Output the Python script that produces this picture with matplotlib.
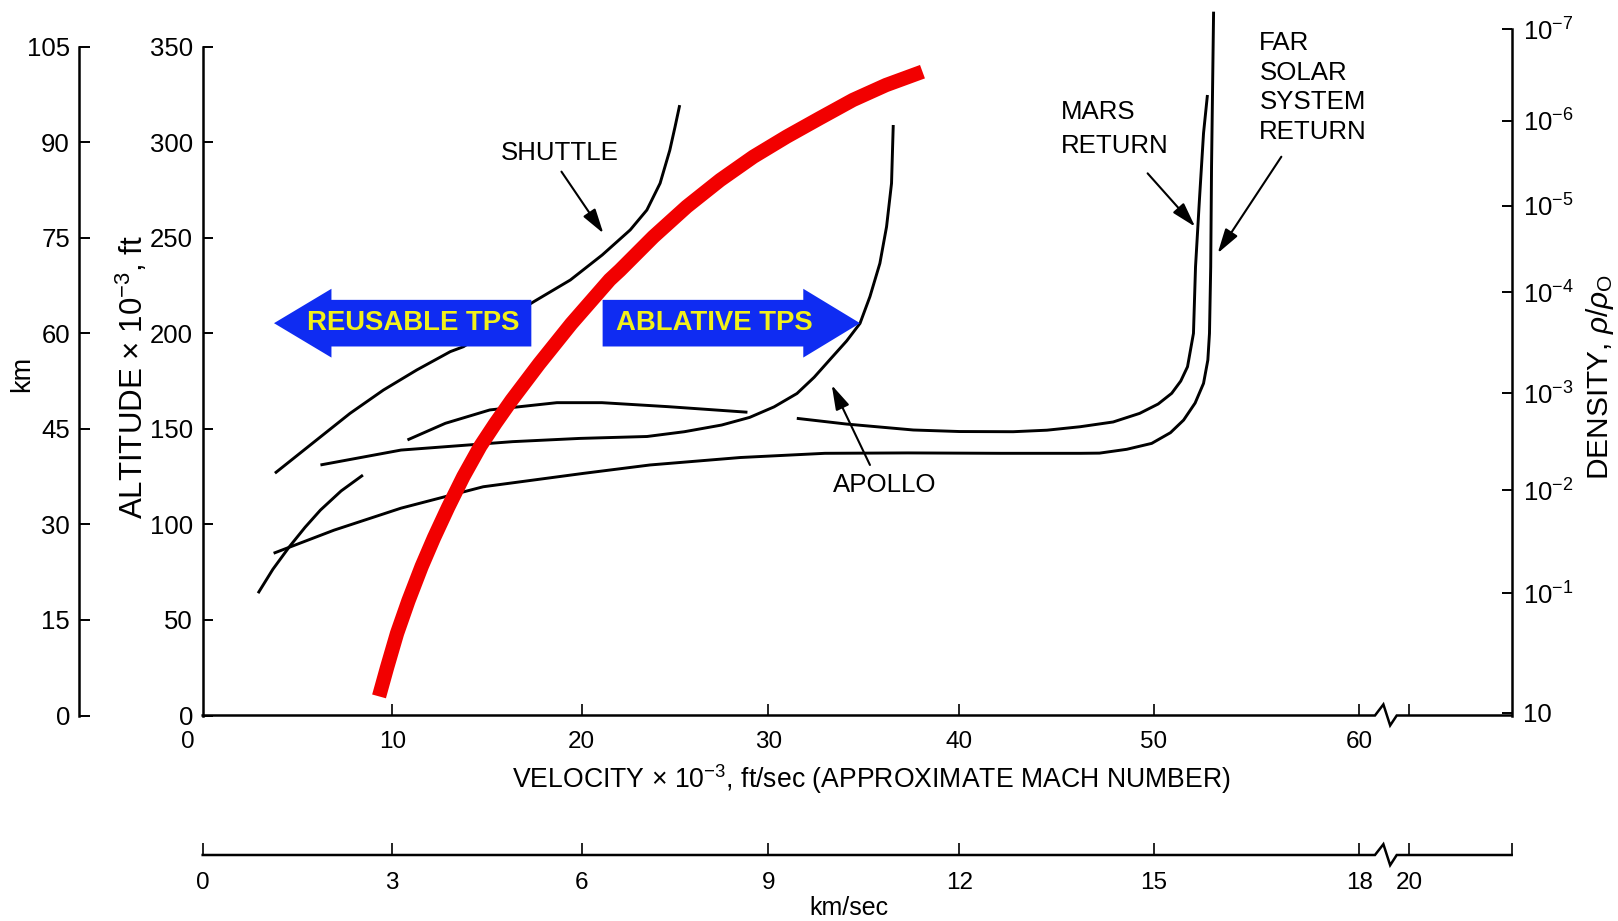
#!/usr/bin/env python3
"""========================================================================
Purpose:
    Entry trajectories (Shuttle, Apollo, Mars return, far solar system
    return) in the altitude / velocity plane, with the boundary between
    reusable and ablative thermal protection systems.
========================================================================"""
#=========================================================================#
# Preamble                                                                #
#=========================================================================#
import numpy as np
import matplotlib
matplotlib.use('Agg')
import matplotlib.pyplot as plt
from matplotlib.patches import Polygon
#=========================================================================#
# Data (velocity x 10^-3 ft/sec, altitude x 10^-3 ft)                     #
#=========================================================================#
tps_v       = [9.3, 9.72, 10.25, 10.85, 11.55, 12.2, 12.95, 13.75, 14.65,
               15.45, 16.3, 17.75, 19.45, 21.5, 22.05, 23.84, 25.63, 27.42,
               29.2, 30.96, 32.68, 34.43, 36.16, 38.07]
tps_alt     = [10, 25, 43, 60, 78, 93, 109, 125, 141, 153, 165, 184, 205,
               228, 233, 250.5, 266.3, 280.2, 292.4, 302.9, 312.5, 322.1,
               329.9, 336.9]

shuttle_v   = [3.81, 6.01, 7.77, 9.53, 11.29, 13.06, 13.76, 15.6, 17.46,
               19.4, 21.1, 22.6, 23.49, 24.2, 24.72, 25.0, 25.25]
shuttle_alt = [126.8, 144.2, 158.1, 170.3, 180.8, 190.4, 193, 205, 216.5,
               227.9, 241, 254.1, 264.5, 278.5, 295.8, 308, 319.4]

low_v       = [2.92, 3.7, 4.57, 5.4, 6.21, 7.3, 8.45]
low_alt     = [64, 76.5, 88.3, 98.5, 107.5, 117.5, 125.8]

hump_v      = [10.8, 12.8, 15.15, 18.69, 21.08, 24.64, 28.88]
hump_alt    = [144.2, 152.9, 159.9, 163.7, 163.7, 161.6, 158.7]

apollo_v    = [6.21, 10.46, 16.35, 19.9, 23.5, 25.5, 27.5, 29.0, 30.3,
               31.5, 32.4, 33.23, 34.1, 34.8, 35.32, 35.84, 36.19, 36.45,
               36.54]
apollo_alt  = [131.1, 138.9, 143.3, 145, 146, 148.5, 152, 156, 161.5,
               168.5, 177, 186.3, 196, 205.2, 219.2, 236.6, 255.8, 278.5,
               309]

mars_v      = [31.49, 34.1, 37.59, 40.0, 42.76, 44.5, 46.2, 47.9, 49.26,
               50.2, 50.86, 51.3, 51.63, 51.92, 52.02, 52.21, 52.41, 52.6]
mars_alt    = [155.5, 152.5, 149.4, 148.6, 148.5, 149.3, 151.1, 153.6,
               158.1, 163, 168.6, 175, 182.5, 200, 234.8, 269.8, 304.7,
               324.7]

far_v       = [3.74, 6.93, 10.46, 14.8, 20.09, 23.66, 28.5, 32.96, 37.3,
               42.09, 46.23, 47.2, 48.6, 49.88, 50.8, 51.44, 52.0, 52.41,
               52.62, 52.7, 52.76, 52.8, 52.9]
far_alt     = [84.9, 97, 108.5, 119.7, 126.7, 131.1, 135, 137.2, 137.4,
               137.2, 137.2, 137.3, 139.3, 142.4, 148, 154.6, 163.5, 173.8,
               186, 200, 234.8, 287, 368.3]

# axis ticks
alt_ticks   = [0, 50, 100, 150, 200, 250, 300, 350]
km_ticks    = [0, 15, 30, 45, 60, 75, 90, 105]
vel_ticks   = [10, 20, 30, 40, 50, 60]
kms_ticks   = [0, 3, 6, 9, 12, 15, 18]
dens_alt    = [1.5, 63.9, 118.0, 168.6, 221.5, 266.8, 311.3, 359.2]
dens_labels = ['10', r'$10^{-1}$', r'$10^{-2}$', r'$10^{-3}$', r'$10^{-4}$',
               r'$10^{-5}$', r'$10^{-6}$', r'$10^{-7}$']
#=========================================================================#
# Layout (figure pixels)                                                  #
#=========================================================================#
W_PX, H_PX  = 1618, 921
X0_PX       = 202.7                 # velocity origin
X1_PX       = 1511.7                # right axis
Y0_PX       = 715.5                 # altitude 0
PX_PER_KFT  = 1.911
# the printed velocity scale is not uniform: measured tick spacing
CAL_V       = [-20, 0, 10, 20, 30, 40, 50, 60, 90]
CAL_PX      = [-176.5, 202.7, 392.3, 581.7, 768.3, 959.3, 1154.0, 1359.3,
               1975.2]
V_END       = 67.42                 # end of the broken axis
V_POST      = 62.42                 # tick behind the break
BREAK_V     = [60.76, 61.17, 61.5, 61.82]
KMS_20      = 20                    # label behind the break (km/sec)

BLUE        = '#0f2cf2'
YELLOW      = '#f2f01a'
RED         = '#f20000'
#-------------------------------------------------------------------------#
# Helpers                                                                 #
#-------------------------------------------------------------------------#
def box(x0, y0, x1, y1):
    """ figure fraction box from pixel corners (y downwards) """
    return [x0/W_PX, 1.0 - y1/H_PX, (x1 - x0)/W_PX, (y1 - y0)/H_PX]

def fwd(v):
    return np.interp(v, CAL_V, CAL_PX)

def inv(p):
    return np.interp(p, CAL_PX, CAL_V)

def set_vel_scale(ax):
    ax.set_xscale('function', functions=(fwd, inv))
    ax.set_xlim(0, V_END)

def broken_line(ax, peak, trough, lw=1.8):
    """ axis baseline with the zig-zag break """
    xs = [0, BREAK_V[0], BREAK_V[1], BREAK_V[2], BREAK_V[3], V_END]
    ys = [0, 0, peak, trough, 0, 0]
    ax.plot(xs, ys, color='k', lw=lw, clip_on=False, solid_joinstyle='miter')

def tps_arrow(ax, tip, base, end, yc, shaft, head, text, tx):
    pts = [(tip, yc), (base, yc + head), (base, yc + shaft), (end, yc + shaft),
           (end, yc - shaft), (base, yc - shaft), (base, yc - head)]
    ax.add_patch(Polygon(pts, closed=True, facecolor=BLUE, edgecolor='none',
                         zorder=4))
    ax.text(tx, yc, text, color=YELLOW, fontsize=19.8, fontweight='bold',
            ha='center', va='center', zorder=5)

def pointer(ax, start, tip):
    ax.annotate('', xy=tip, xytext=start,
                arrowprops=dict(arrowstyle='-|>,head_length=0.75,head_width=0.22',
                                color='k', lw=1.5, mutation_scale=20,
                                shrinkA=0, shrinkB=0), zorder=6)
#=========================================================================#
# Main                                                                    #
#=========================================================================#
if __name__ == '__main__':
    plt.rcParams['font.family']      = ['Liberation Sans', 'DejaVu Sans']
    plt.rcParams['mathtext.fontset'] = 'custom'
    plt.rcParams['mathtext.rm']      = 'Liberation Sans'
    plt.rcParams['mathtext.it']      = 'Liberation Sans:italic'

    fig = plt.figure(figsize=(W_PX/100, H_PX/100), dpi=100)
    top_px = Y0_PX - 350*PX_PER_KFT
    #---------------------------------------------------------------------#
    # Main axes                                                           #
    #---------------------------------------------------------------------#
    ax = fig.add_axes(box(X0_PX, top_px, X1_PX, Y0_PX))
    ax.patch.set_alpha(0)
    set_vel_scale(ax)
    ax.set_ylim(0, 350)
    for s in ['top', 'right', 'bottom']:
        ax.spines[s].set_visible(False)
    ax.spines['left'].set_linewidth(1.8)
    ax.set_yticks(alt_ticks)
    ax.tick_params(axis='y', direction='in', length=7.2, width=1.4, pad=7,
                   labelsize=18.5)
    ax.set_xticks(vel_ticks + [V_POST])
    ax.set_xticklabels([str(v) for v in vel_ticks] + [''])
    ax.tick_params(axis='x', direction='in', length=8.6, width=1.2, pad=11,
                   labelsize=17.5)
    ax.annotate('0', xy=(-0.78, 0), xycoords=('data', 'axes fraction'),
                xytext=(0, -11), textcoords='offset points', ha='center',
                va='top', fontsize=17.5, annotation_clip=False)
    broken_line(ax, 5.8, -5.2)
    #---------------------------------------------------------------------#
    # Curves                                                              #
    #---------------------------------------------------------------------#
    lw = 2.1
    ax.plot(tps_v, tps_alt, color=RED, lw=10.3, solid_capstyle='butt',
            solid_joinstyle='round', zorder=3)
    for vv, aa in [(shuttle_v, shuttle_alt), (low_v, low_alt),
                   (hump_v, hump_alt), (apollo_v, apollo_alt),
                   (mars_v, mars_alt), (far_v, far_alt)]:
        ax.plot(vv, aa, color='k', lw=lw, clip_on=False, zorder=2,
                solid_capstyle='butt', solid_joinstyle='round')
    #---------------------------------------------------------------------#
    # TPS arrows and labels                                               #
    #---------------------------------------------------------------------#
    tps_arrow(ax, 3.76, 6.79, 17.34, 205.3, 12.2, 18.0, 'REUSABLE TPS', 11.1)
    tps_arrow(ax, 34.8, 31.83, 21.12, 205.3, 12.2, 18.0, 'ABLATIVE TPS', 27.1)

    fs = 18.6
    ax.text(18.84, 294.6, 'SHUTTLE', fontsize=fs, ha='center', va='center')
    pointer(ax, (18.93, 284.6), (21.16, 252.3))
    ax.text(36.1, 120.6, 'APOLLO', fontsize=fs, ha='center', va='center')
    pointer(ax, (35.32, 131.1), (33.32, 172.9))
    ax.text(45.22, 307.0, 'MARS\nRETURN', fontsize=fs, ha='left',
            va='center', linespacing=1.55)
    pointer(ax, (49.67, 283.7), (52.0, 255.8))
    ax.text(55.13, 328.6, 'FAR\nSOLAR\nSYSTEM\nRETURN', fontsize=fs,
            ha='left', va='center', linespacing=1.29, clip_on=False)
    pointer(ax, (56.2, 292.4), (53.1, 241.9))
    #---------------------------------------------------------------------#
    # km altitude axis                                                    #
    #---------------------------------------------------------------------#
    axk = fig.add_axes(box(79, top_px, 80, Y0_PX))
    axk.patch.set_alpha(0)
    axk.set_ylim(0, 105)
    axk.set_xticks([])
    for s in ['top', 'right', 'bottom']:
        axk.spines[s].set_visible(False)
    axk.spines['left'].set_linewidth(1.8)
    axk.set_yticks(km_ticks)
    axk.tick_params(axis='y', direction='in', length=7.9, width=1.4, pad=6.5,
                    labelsize=18.5)
    #---------------------------------------------------------------------#
    # Density axis                                                        #
    #---------------------------------------------------------------------#
    top_d = Y0_PX - dens_alt[-1]*PX_PER_KFT
    axd = fig.add_axes(box(X0_PX, top_d, X1_PX, Y0_PX))
    axd.patch.set_alpha(0)
    axd.set_ylim(0, dens_alt[-1])
    axd.set_xticks([])
    for s in ['top', 'left', 'bottom']:
        axd.spines[s].set_visible(False)
    axd.spines['right'].set_linewidth(1.8)
    axd.yaxis.tick_right()
    axd.set_yticks(dens_alt)
    axd.set_yticklabels(dens_labels)
    axd.tick_params(axis='y', direction='in', length=7.2, width=1.4, pad=8,
                    labelsize=18.5)
    #---------------------------------------------------------------------#
    # km/sec axis                                                         #
    #---------------------------------------------------------------------#
    axs = fig.add_axes(box(X0_PX, 843, X1_PX, 855))
    axs.patch.set_alpha(0)
    set_vel_scale(axs)
    axs.set_ylim(0, 1)
    axs.set_yticks([])
    for s in ['top', 'left', 'right', 'bottom']:
        axs.spines[s].set_visible(False)
    axs.set_xticks([k*10.0/3.0 for k in kms_ticks] + [V_POST, V_END])
    axs.set_xticklabels([str(k) for k in kms_ticks] + [str(KMS_20), ''])
    axs.tick_params(axis='x', direction='in', length=8.6, width=1.2, pad=12,
                    labelsize=17.5)
    broken_line(axs, 0.9, -0.85)
    #---------------------------------------------------------------------#
    # Axis titles                                                         #
    #---------------------------------------------------------------------#
    fig.text(22/W_PX, 1 - 374/H_PX, 'km', rotation=90, ha='center',
             va='center', fontsize=19.5)
    fig.text(132/W_PX, 1 - 377/H_PX, 'ALTITUDE × 10$^{-3}$, ft', rotation=90,
             ha='center', va='center', fontsize=22.5)
    fig.text(1600/W_PX, 1 - 377/H_PX, r'DENSITY, $\rho/\rho_{\mathrm{O}}$',
             rotation=90, ha='center', va='center', fontsize=21.5)
    fig.text(871/W_PX, 1 - 779/H_PX,
             'VELOCITY × 10$^{-3}$, ft/sec (APPROXIMATE MACH NUMBER)',
             ha='center', va='center', fontsize=19.2)
    fig.text(849/W_PX, 1 - 908/H_PX, 'km/sec', ha='center', va='center',
             fontsize=18)

    fig.savefig('out.png', dpi=100)
    plt.close()
